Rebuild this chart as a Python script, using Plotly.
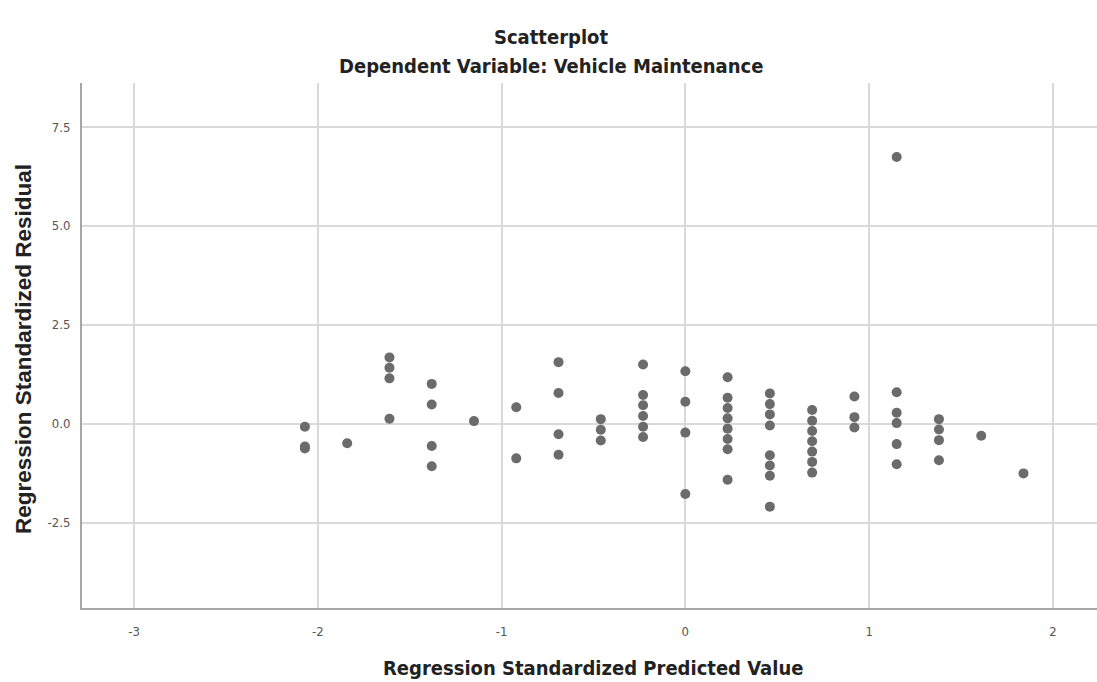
import plotly.graph_objects as go

# Regression standardized predicted values (x) and residuals (y)
pred_vals = [
    -2.07, -2.07, -2.07,
    -1.84,
    -1.61, -1.61, -1.61, -1.61,
    -1.38, -1.38, -1.38, -1.38,
    -1.15,
    -0.92, -0.92,
    -0.69, -0.69, -0.69, -0.69,
    -0.46, -0.46, -0.46,
    -0.23, -0.23, -0.23, -0.23, -0.23, -0.23,
    0.0, 0.0, 0.0, 0.0,
    0.23, 0.23, 0.23, 0.23, 0.23, 0.23, 0.23, 0.23,
    0.46, 0.46, 0.46, 0.46, 0.46, 0.46, 0.46, 0.46,
    0.69, 0.69, 0.69, 0.69, 0.69, 0.69, 0.69,
    0.92, 0.92, 0.92,
    1.15, 1.15, 1.15, 1.15, 1.15, 1.15,
    1.38, 1.38, 1.38, 1.38,
    1.61,
    1.84,
]
resid_vals = [
    -0.07, -0.57, -0.62,
    -0.49,
    1.68, 1.42, 1.15, 0.13,
    1.01, 0.49, -0.56, -1.07,
    0.07,
    0.42, -0.87,
    1.56, 0.78, -0.26, -0.78,
    0.12, -0.15, -0.42,
    1.50, 0.73, 0.47, 0.20, -0.07, -0.33,
    1.33, 0.56, -0.22, -1.77,
    1.18, 0.66, 0.40, 0.14, -0.12, -0.38, -0.64, -1.41,
    0.77, 0.50, 0.24, -0.04, -0.79, -1.05, -1.31, -2.09,
    0.35, 0.08, -0.18, -0.44, -0.70, -0.96, -1.23,
    0.69, 0.17, -0.09,
    6.74, 0.80, 0.28, 0.02, -0.51, -1.02,
    0.12, -0.14, -0.41, -0.92,
    -0.30,
    -1.25,
]

x_ticks = [-3, -2, -1, 0, 1, 2]
y_ticks = [-2.5, 0.0, 2.5, 5.0, 7.5]

title_main = "Scatterplot"
title_sub = "Dependent Variable: Vehicle Maintenance"
x_title = "Regression Standardized Predicted Value"
y_title = "Regression Standardized Residual"

narrow = "Liberation Sans Narrow, Arial Narrow, DejaVu Sans Condensed, Liberation Sans, sans-serif"
wide = "Liberation Sans, Arial, sans-serif"

fig = go.Figure()
fig.add_trace(go.Scatter(
    x=pred_vals, y=resid_vals, mode="markers",
    marker=dict(size=10, color="#6b6b6b", line=dict(width=0)),
    hoverinfo="x+y", showlegend=False,
))

L, R, T, B = 82, 0, 83, 74
W, H = 1097, 682
pw = W - L - R
ph = H - T - B

fig.update_layout(
    width=W, height=H,
    margin=dict(l=L, r=R, t=T, b=B, pad=0),
    paper_bgcolor="white", plot_bgcolor="white",
    font=dict(family=wide, color="#222"),
    xaxis=dict(
        range=[-3.283, 2.24], tickmode="array", tickvals=x_ticks,
        ticktext=[str(v) for v in x_ticks],
        showgrid=True, gridcolor="#d9d9d9", gridwidth=2,
        zeroline=False, showline=True, linecolor="#a6a6a6", linewidth=2,
        ticks="", ticklabelstandoff=10,
        tickfont=dict(family=narrow, size=13, color="#555"),
    ),
    yaxis=dict(
        range=[-4.65, 8.61], tickmode="array", tickvals=y_ticks,
        ticktext=[f"{v:.1f}" for v in y_ticks],
        showgrid=True, gridcolor="#d9d9d9", gridwidth=2,
        zeroline=False, showline=True, linecolor="#a6a6a6", linewidth=2,
        ticks="", ticklabelstandoff=7,
        tickfont=dict(family=narrow, size=13, color="#555"),
    ),
    annotations=[
        dict(text=f"<b>{title_main}</b>", xref="paper", yref="paper",
             x=(551 - L) / pw, y=1 + (T - 37) / ph, xanchor="center", yanchor="middle",
             showarrow=False, font=dict(family=narrow, size=20, color="#222")),
        dict(text=f"<b>{title_sub}</b>", xref="paper", yref="paper",
             x=(551 - L) / pw, y=1 + (T - 66) / ph, xanchor="center", yanchor="middle",
             showarrow=False, font=dict(family=narrow, size=20, color="#222")),
        dict(text=f"<b>{x_title}</b>", xref="paper", yref="paper",
             x=(593 - L) / pw, y=-(668 - T - ph) / ph, xanchor="center", yanchor="middle",
             showarrow=False, font=dict(family=narrow, size=20, color="#222")),
        dict(text=f"<b>{y_title}</b>", xref="paper", yref="paper",
             x=-(L - 23) / pw, y=1 - (349 - T) / ph, xanchor="center", yanchor="middle",
             textangle=-90, showarrow=False, font=dict(family=wide, size=22.5, color="#222")),
    ],
)

fig.write_html("out.html", config={"displayModeBar": False},
               post_script="document.body.style.margin='0px';")
